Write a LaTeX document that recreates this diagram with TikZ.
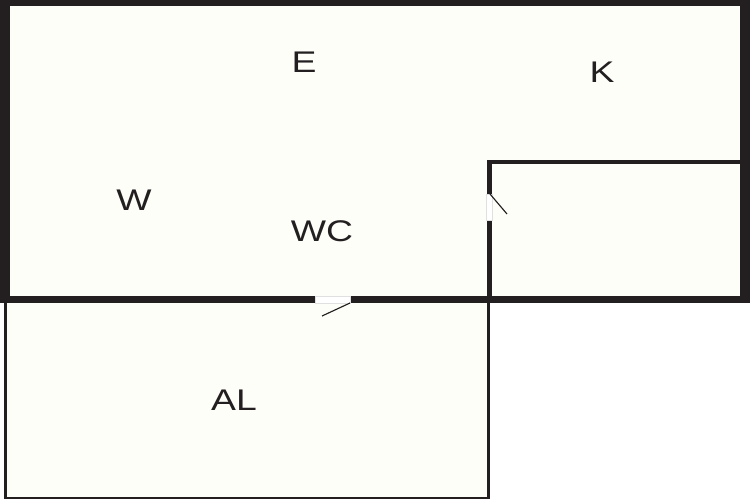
\documentclass[tikz,border=0pt]{standalone}
\usepackage{fontspec}
\setmainfont{Liberation Sans}
\definecolor{floorcol}{HTML}{FEFEF9}
\definecolor{wallcol}{HTML}{231F20}
\tikzset{
  wall/.style={fill=wallcol, draw=none},
  gap/.style={fill=white, draw=black!12, line width=0.4pt},
  leaf/.style={draw=wallcol, line width=0.65pt},
  roomlabel/.style={text=wallcol, font=\fontsize{17}{17}\selectfont, xscale=1.25, inner sep=0pt}
}
\begin{document}
\begin{tikzpicture}[x=0.02cm,y=-0.02cm]
      \useasboundingbox (0,0) rectangle (750,500);
      \fill[floorcol] (0,0) rectangle (750,300);
      \fill[floorcol] (5,300) rectangle (488,498);
      \fill[wall] (0,0) rectangle (750,6); % top
      \fill[wall] (0,0) rectangle (10,303); % left
      \fill[wall] (740,0) rectangle (750,303); % right
      \fill[wall] (0,296) rectangle (750,303); % middle
      \fill[wall] (487,160) rectangle (740,164); % small room top
      \fill[wall] (487,160) rectangle (492,300); % small room left
      \fill[wall] (4,300) rectangle (7,499); % lower left
      \fill[wall] (487,300) rectangle (490,499); % lower right
      \fill[wall] (4,497) rectangle (490,499); % lower bottom
      \path[gap] (315,296) rectangle (350,303); % lower door
      \path[gap] (486,194) rectangle (492,220); % side door
      \coordinate (lowerhinge) at (350,303);
      \coordinate (lowerend) at (322,316);
      \coordinate (sidehinge) at (490,194);
      \coordinate (sideend) at (507,214);
      \draw[leaf] (lowerhinge) -- (lowerend);
      \draw[leaf] (sidehinge) -- (sideend);
      \node[roomlabel] (labelE) at (304,62.5) {E};
      \node[roomlabel] (labelK) at (602,72.5) {K};
      \node[roomlabel] (labelW) at (134,200.5) {W};
      \node[roomlabel] (labelWC) at (322,231.5) {WC};
      \node[roomlabel] (labelAL) at (234,400.5) {AL};
    \end{tikzpicture}
\end{document}
